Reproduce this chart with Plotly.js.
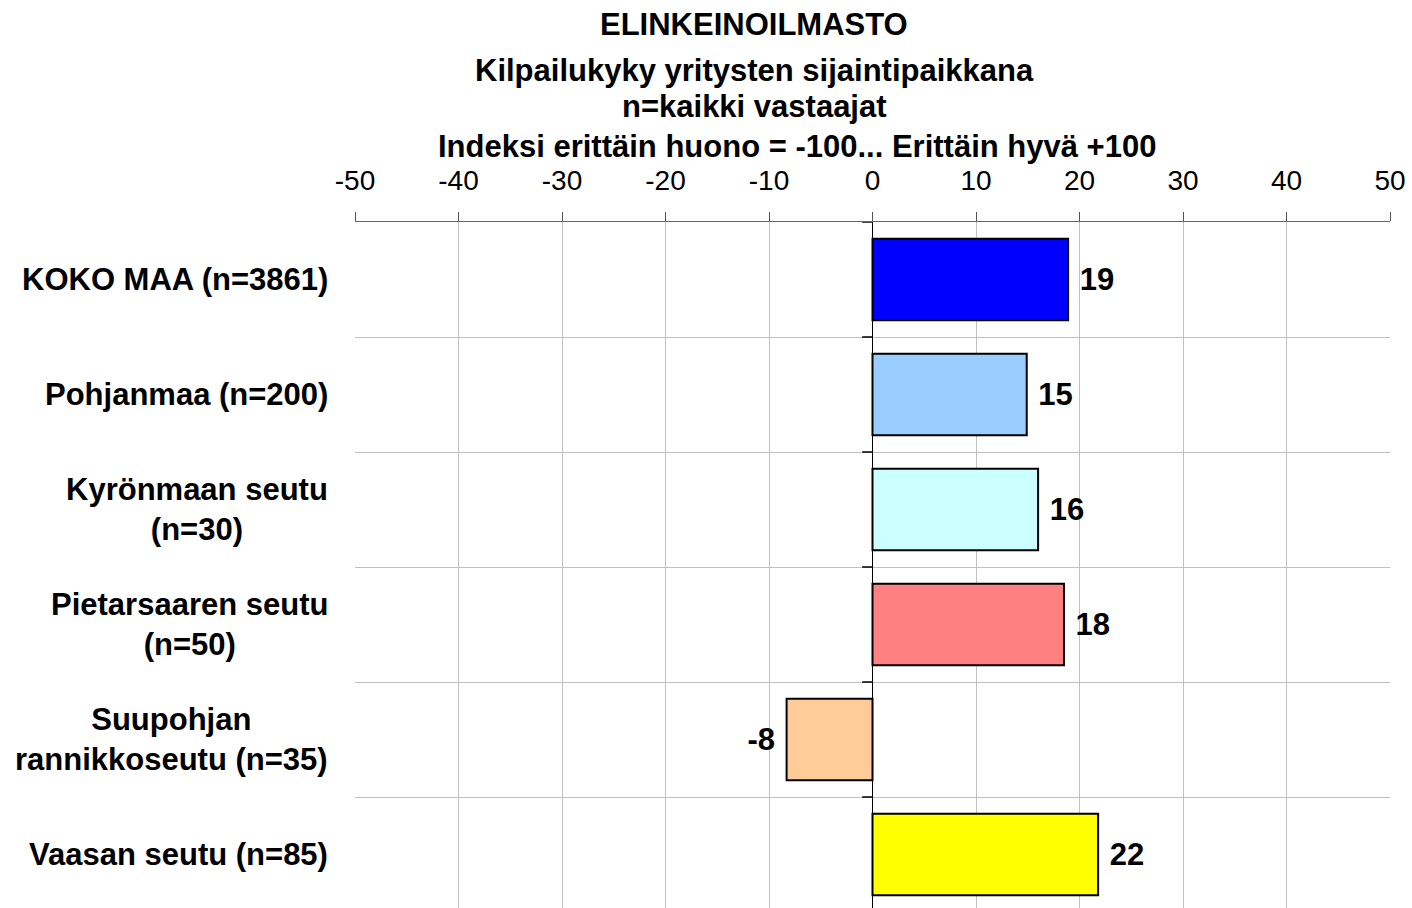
<!DOCTYPE html>
<html>
<head>
<meta charset="utf-8">
<script src="https://cdn.plot.ly/plotly-3.0.1.min.js"></script>
<style>html,body{margin:0;padding:0;background:#fff;}</style>
</head>
<body>
<div id="chart" style="width:1412px;height:908px;"></div>
<script>
const categories = ['KOKO MAA (n=3861)', 'Pohjanmaa (n=200)', 'Kyrönmaan seutu<br>(n=30)', 'Pietarsaaren seutu<br>(n=50)', 'Suupohjan<br>rannikkoseutu (n=35)', 'Vaasan seutu (n=85)'];
const values = [18.9, 14.9, 16.0, 18.5, -8.3, 21.8];
const valueLabels = ['19', '15', '16', '18', '-8', '22'];
const barColors = ['#0000ff', '#99ccff', '#ccffff', '#ff8080', '#ffcc99', '#ffff00'];
const titleLines = ['ELINKEINOILMASTO', 'Kilpailukyky yritysten sijaintipaikkana', 'n=kaikki vastaajat', 'Indeksi erittäin huono = -100... Erittäin hyvä +100'];
const xTickVals = [-50, -40, -30, -20, -10, 0, 10, 20, 30, 40, 50];

const W = 1412, H = 908;
const M = {l: 355, r: 22, t: 222, b: 0};
const pw = W - M.l - M.r, ph = H - M.t - M.b;
const px2paperX = px => (px - M.l) / pw;
const px2paperY = py => (H - M.b - py) / ph;
const FONT = '"Liberation Sans", Arial, sans-serif';

const titleX = [754, 754, 754, 797];
const titleY = [24, 70, 107, 146];

const annotations = [];
titleLines.forEach((t, i) => annotations.push({
  text: t, xref: 'paper', yref: 'paper', x: px2paperX(titleX[i]), y: px2paperY(titleY[i]),
  xanchor: 'center', yanchor: 'middle', showarrow: false,
  font: {family: FONT, size: 31, color: '#000', weight: 'bold'}
}));
categories.forEach(c => annotations.push({
  text: c, xref: 'paper', yref: 'y', x: px2paperX(330), y: c,
  xanchor: 'right', yanchor: 'middle', align: 'center', showarrow: false,
  font: {family: FONT, size: 31, color: '#000', weight: 'bold'}
}));

const shapes = [];
for (let i = 0; i < categories.length; i++) {
  shapes.push({type: 'line', xref: 'x', yref: 'y', x0: -1, x1: 0, y0: i - 0.5, y1: i - 0.5,
    line: {color: '#000', width: 1.5}});
}

// pad labels with a space on the side facing the bar
const paddedLabels = valueLabels.map((t, i) => values[i] < 0 ? t + ' ' : ' ' + t);

const trace = {
  type: 'bar', orientation: 'h', y: categories, x: values,
  width: 0.71,
  marker: {color: barColors, line: {color: '#000', width: 2}},
  text: paddedLabels, textposition: 'outside', cliponaxis: false,
  textfont: {family: FONT, size: 31, color: '#000', weight: 'bold'},
  hoverinfo: 'none'
};

const layout = {
  width: W, height: H, margin: M,
  paper_bgcolor: '#fff', plot_bgcolor: '#fff',
  showlegend: false,
  xaxis: {
    side: 'top', range: [-50, 50], tickvals: xTickVals, ticktext: xTickVals.map(String),
    ticks: 'outside', ticklen: 9, tickcolor: '#555', tickwidth: 1,
    ticklabelstandoff: 10,
    showline: true, linecolor: '#666', linewidth: 1.5,
    showgrid: true, gridcolor: '#c0c0c0', gridwidth: 1,
    zeroline: true, zerolinecolor: '#000', zerolinewidth: 1.5,
    tickfont: {family: FONT, size: 28, color: '#000'}, fixedrange: true
  },
  yaxis: {
    type: 'category', categoryorder: 'array', categoryarray: categories,
    range: [categories.length - 0.5 - (categories.length * 115 - ph) / 115, -0.5],
    tickson: 'boundaries', showgrid: true, gridcolor: '#c0c0c0', gridwidth: 1,
    showticklabels: false, ticks: '', showline: false, zeroline: false, fixedrange: true
  },
  annotations: annotations,
  shapes: shapes
};

Plotly.newPlot('chart', [trace], layout, {displayModeBar: false, staticPlot: true});
</script>
</body>
</html>
